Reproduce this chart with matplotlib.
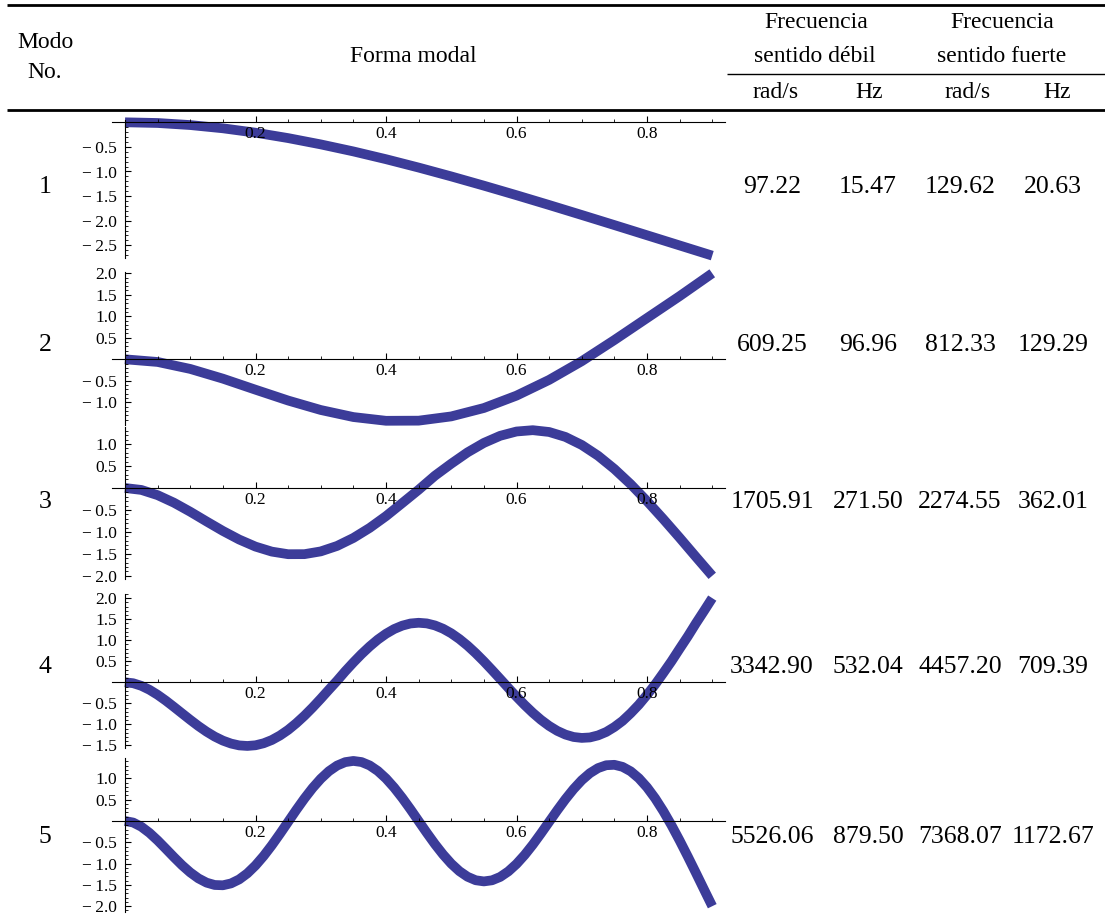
import numpy as np
import matplotlib
matplotlib.use("Agg")
import matplotlib.pyplot as plt
from matplotlib.lines import Line2D
from matplotlib.ticker import FixedLocator, FuncFormatter

plt.rcParams['font.family'] = ['Liberation Serif', 'DejaVu Serif']

W, H = 1105, 917

# ---------------- data ----------------
modes = ["1", "2", "3", "4", "5"]
rad_debil = ["97.22", "609.25", "1705.91", "3342.90", "5526.06"]
hz_debil = ["15.47", "96.96", "271.50", "532.04", "879.50"]
rad_fuerte = ["129.62", "812.33", "2274.55", "4457.20", "7368.07"]
hz_fuerte = ["20.63", "129.29", "362.01", "709.39", "1172.67"]

x_coarse = np.linspace(0.0, 0.9, 19)   # step 0.05
x_mid = np.linspace(0.0, 0.9, 37)      # step 0.025
x_fine = np.linspace(0.0, 0.9, 73)     # step 0.0125

mode1_y = [0, -0.014, -0.056, -0.122, -0.211, -0.321, -0.449, -0.592, -0.750, -0.920,
           -1.100, -1.288, -1.482, -1.681, -1.884, -2.089, -2.296, -2.503, -2.71]
mode2_y = [0, -0.062, -0.224, -0.450, -0.707, -0.959, -1.179, -1.343, -1.430, -1.427,
           -1.328, -1.133, -0.845, -0.479, -0.044, 0.448, 0.959, 1.469, 2.0]
mode3_y = [0, -0.044, -0.163, -0.335, -0.541, -0.762, -0.978, -1.174, -1.335, -1.449,
           -1.508, -1.507, -1.444, -1.320, -1.138, -0.909, -0.641, -0.342, -0.040, 0.280,
           0.554, 0.812, 1.027, 1.189, 1.287, 1.317, 1.276, 1.163, 0.980, 0.735,
           0.433, 0.086, -0.299, -0.708, -1.133, -1.569, -2.0]
mode4_y = [0, -0.022, -0.084, -0.178, -0.297, -0.435, -0.585, -0.739, -0.892, -1.039,
           -1.173, -1.290, -1.385, -1.455, -1.499, -1.512, -1.496, -1.448, -1.371, -1.264,
           -1.131, -0.972, -0.794, -0.599, -0.391, -0.175, 0.036, 0.261, 0.471, 0.670,
           0.852, 1.015, 1.153, 1.265, 1.346, 1.397, 1.414, 1.399, 1.351, 1.272,
           1.164, 1.028, 0.870, 0.691, 0.497, 0.291, 0.080, -0.133, -0.341, -0.540,
           -0.725, -0.892, -1.036, -1.154, -1.242, -1.299, -1.321, -1.310, -1.261, -1.180,
           -1.062, -0.917, -0.735, -0.532, -0.299, -0.051, 0.221, 0.499, 0.797, 1.090,
           1.401, 1.698, 2.0]
mode5_y = [0, -0.036, -0.134, -0.279, -0.456, -0.651, -0.849, -1.039, -1.208, -1.347,
           -1.447, -1.502, -1.509, -1.465, -1.371, -1.229, -1.043, -0.821, -0.570, -0.300,
           -0.020, 0.260, 0.528, 0.775, 0.991, 1.169, 1.301, 1.382, 1.410, 1.384,
           1.304, 1.174, 0.998, 0.784, 0.540, 0.275, -0.002, -0.277, -0.543, -0.787,
           -1.002, -1.178, -1.309, -1.391, -1.418, -1.392, -1.313, -1.183, -1.009, -0.797,
           -0.555, -0.292, -0.020, 0.252, 0.512, 0.750, 0.957, 1.123, 1.242, 1.309,
           1.319, 1.271, 1.166, 1.004, 0.791, 0.532, 0.232, -0.100, -0.458, -0.833,
           -1.219, -1.611, -2.0]

y_ticklabels = [
    [-0.5, -1.0, -1.5, -2.0, -2.5],
    [2.0, 1.5, 1.0, 0.5, -0.5, -1.0],
    [1.0, 0.5, -0.5, -1.0, -1.5, -2.0],
    [2.0, 1.5, 1.0, 0.5, -0.5, -1.0, -1.5],
    [1.0, 0.5, -0.5, -1.0, -1.5, -2.0],
]
x_ticklabels = [0.2, 0.4, 0.6, 0.8]

series = [(x_coarse, mode1_y), (x_coarse, mode2_y), (x_mid, mode3_y),
          (x_fine, mode4_y), (x_fine, mode5_y)]

# ---------------- layout (pixels) ----------------
layout = [
    (122.3, 49.2, (-2.75, 0.04)),
    (359.3, 43.0, (-1.53, 2.04)),
    (488.0, 43.9, (-2.08, 1.38)),
    (682.3, 42.1, (-1.56, 2.10)),
    (821.0, 42.6, (-2.14, 1.47)),
]
x0_px, xscale = 125.0, 652.5
xlim = (-0.02, 0.92)
row_y = [187, 345, 502, 667, 837]
col_x = [772, 868, 960, 1053]

fig = plt.figure(figsize=(W / 100, H / 100), dpi=100)

def fx(p):
    return p / W

def fy(p):
    return 1 - p / H

def hline(x0, x1, y, lw):
    fig.add_artist(Line2D([fx(x0), fx(x1)], [fy(y), fy(y)], lw=lw, color='black',
                          transform=fig.transFigure, solid_capstyle='butt'))

hline(7, 1105, 5, 2.0)
hline(727, 1105, 74, 1.0)
hline(7, 1105, 110, 2.0)

fs = 17
fs_num = 18.5
fig.text(fx(45), fy(43), "Modo", ha='center', va='center', fontsize=fs)
fig.text(fx(45), fy(73), "No.", ha='center', va='center', fontsize=fs)
fig.text(fx(413), fy(57), "Forma modal", ha='center', va='center', fontsize=fs)
fig.text(fx(816), fy(22), "Frecuencia", ha='center', va='center', fontsize=fs)
fig.text(fx(815), fy(56), "sentido débil", ha='center', va='center', fontsize=fs)
fig.text(fx(1002), fy(22), "Frecuencia", ha='center', va='center', fontsize=fs)
fig.text(fx(1002), fy(56), "sentido fuerte", ha='center', va='center', fontsize=fs)
for cx, lab in zip([776, 869, 968, 1057], ["rad/s", "Hz", "rad/s", "Hz"]):
    fig.text(fx(cx), fy(92), lab, ha='center', va='center', fontsize=fs)

for i in range(5):
    fig.text(fx(45), fy(row_y[i]), modes[i], ha='center', va='center', fontsize=fs_num)
    for cx, col in zip(col_x, [rad_debil, hz_debil, rad_fuerte, hz_fuerte]):
        fig.text(fx(cx), fy(row_y[i]), col[i], ha='center', va='center', fontsize=fs_num)

line_color = '#3c3c99'

def fmt(v, pos):
    s = "%.1f" % abs(v)
    return ('\u2212\u2009' + s) if v < 0 else s

for i, ((xs, ys), (zero, sc, yl)) in enumerate(zip(series, layout)):
    left = x0_px + xlim[0] * xscale
    right = x0_px + xlim[1] * xscale
    top = zero - yl[1] * sc
    bottom = zero - yl[0] * sc
    ax = fig.add_axes([fx(left), fy(bottom), (right - left) / W, (bottom - top) / H])
    ax.patch.set_alpha(0)
    ax.set_xlim(*xlim)
    ax.set_ylim(*yl)
    ax.plot(xs, ys, color=line_color, lw=7.0, solid_capstyle='butt',
            solid_joinstyle='round', zorder=1, clip_on=False)
    for s in ['top', 'right']:
        ax.spines[s].set_visible(False)
    ax.spines['left'].set_position(('data', 0))
    ax.spines['bottom'].set_position(('data', 0))
    for s in ['left', 'bottom']:
        ax.spines[s].set_linewidth(0.8)
        ax.spines[s].set_zorder(3)
    ax.xaxis.set_major_locator(FixedLocator(x_ticklabels))
    ax.xaxis.set_minor_locator(FixedLocator([0.05, 0.1, 0.15, 0.25, 0.3, 0.35, 0.45,
                                             0.5, 0.55, 0.65, 0.7, 0.75, 0.85, 0.9]))
    ax.xaxis.set_major_formatter(FuncFormatter(lambda v, p: "%.1f" % v))
    ax.yaxis.set_major_locator(FixedLocator(y_ticklabels[i]))
    ymin_t = int(np.ceil(yl[0] * 10))
    ymax_t = int(np.floor(yl[1] * 10))
    ax.yaxis.set_minor_locator(FixedLocator([k / 10 for k in range(ymin_t, ymax_t + 1)
                                             if k % 5 != 0]))
    ax.yaxis.set_major_formatter(FuncFormatter(fmt))
    ax.tick_params(axis='both', which='major', direction='in', length=4, width=0.8,
                   labelsize=12.5, zorder=3)
    ax.tick_params(axis='both', which='minor', direction='in', length=2, width=0.6)
    ax.tick_params(axis='x', which='major', pad=3)
    ax.tick_params(axis='y', which='major', pad=6)

fig.savefig("out.png", dpi=100)
